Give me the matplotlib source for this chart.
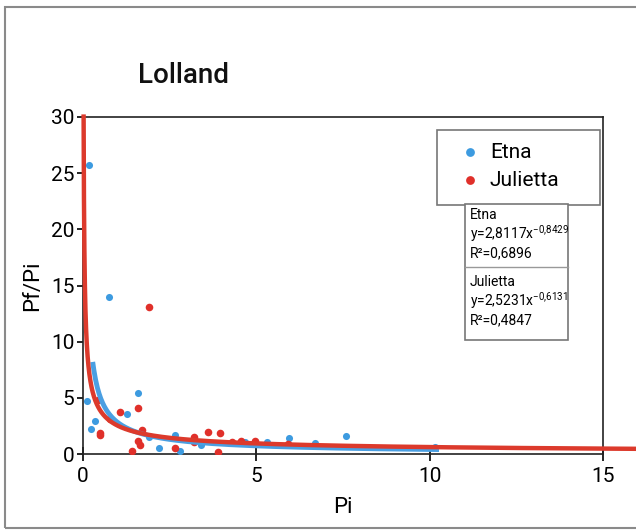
import numpy as np
import matplotlib
matplotlib.use("Agg")
import matplotlib.pyplot as plt
from matplotlib.patches import Rectangle

FONT = ['Roboto', 'DejaVu Sans']
plt.rcParams['font.family'] = FONT

# Data
etna_x = [0.17, 0.75, 1.6, 0.12, 0.35, 0.23, 1.27, 2.2, 2.8, 1.9, 2.65, 3.4, 4.67,
          5.3, 5.95, 6.7, 7.6, 10.15]
etna_y = [25.7, 14.0, 5.4, 4.7, 2.9, 2.2, 3.6, 0.55, 0.25, 1.5, 1.7, 0.8, 1.1,
          1.1, 1.4, 0.95, 1.6, 0.6]
jul_x = [1.9, 1.07, 1.6, 0.78, 0.5, 0.5, 0.43, 1.7, 1.6, 1.65, 1.4, 2.65, 3.2, 3.2,
         3.6, 3.95, 3.9, 4.3, 4.55, 4.95, 5.9]
jul_y = [13.1, 3.7, 4.1, 3.1, 1.9, 1.7, 4.8, 2.1, 1.15, 0.8, 0.3, 0.5, 1.5, 1.1,
         2.0, 1.9, 0.2, 1.1, 1.2, 1.2, 0.9]

etna_a, etna_b, etna_r2 = 2.8117, -0.8429, 0.6896
jul_a, jul_b, jul_r2 = 2.5231, -0.6131, 0.4847
etna_range = (0.29, 10.2)
jul_range = (0.0176, 15.9)

x_ticks = [0, 5, 10, 15]
y_ticks = [0, 5, 10, 15, 20, 25, 30]

blue = '#3d9be0'
red = '#e0302a'
blue_line = '#4a9fe2'
red_line = '#dc3a2c'

fig = plt.figure(figsize=(6.36, 5.31), dpi=100)
# outer frame
fig.add_artist(Rectangle((5 / 636, 1 - 528 / 531), 640 / 636, 521 / 531,
                         transform=fig.transFigure, fill=False,
                         edgecolor='#8a8a8a', linewidth=1.5))

ax = fig.add_axes([83 / 636, 1 - 454 / 531, 520 / 636, 337 / 531])
ax.set_xlim(0, 15)
ax.set_ylim(0, 30)

ax.scatter(etna_x, etna_y, s=26, color=blue, zorder=3, linewidths=0)
ax.scatter(jul_x, jul_y, s=30, color=red, zorder=3, linewidths=0)

xe = np.linspace(*etna_range, 400)
ax.plot(xe, etna_a * xe ** etna_b, color=blue_line, lw=3.5, zorder=4)
xj = np.geomspace(*jul_range, 600)
ax.plot(xj, jul_a * xj ** jul_b, color=red_line, lw=3.2, zorder=5, clip_on=False)

ax.set_xticks(x_ticks)
ax.set_yticks(y_ticks)
ax.tick_params(axis='x', direction='inout', length=10, width=1.2, labelsize=15, pad=4)
ax.tick_params(axis='y', direction='out', length=4, width=1.2, labelsize=15, pad=2)
for s in ax.spines.values():
    s.set_color('#222222')
    s.set_linewidth(1.2)

ax.set_xlabel('Pi', fontsize=16, labelpad=8)
ax.set_ylabel('Pf/Pi', fontsize=16, labelpad=6)

fig.text(138 / 636, 1 - 76 / 531, 'Lolland', fontsize=20, va='center',
         ha='left', color='#111111', fontweight='medium')

# Legend box
lx0, lx1 = (437 - 83) / 520, (600 - 83) / 520
ly0, ly1 = 1 - (205 - 117) / 337, 1 - (130 - 117) / 337
ax.add_patch(Rectangle((lx0, ly0), lx1 - lx0, ly1 - ly0, transform=ax.transAxes,
                       facecolor='white', edgecolor='#777777', lw=1.2, zorder=6))
ax.scatter([(470 - 83) / 520], [1 - (152 - 117) / 337], s=40, color=blue,
           transform=ax.transAxes, zorder=7, linewidths=0)
ax.scatter([(470 - 83) / 520], [1 - (180 - 117) / 337], s=40, color=red,
           transform=ax.transAxes, zorder=7, linewidths=0)
ax.text((490 - 83) / 520, 1 - (152 - 117) / 337, 'Etna', transform=ax.transAxes,
        fontsize=15, va='center', ha='left', zorder=7)
ax.text((490 - 83) / 520, 1 - (180 - 117) / 337, 'Julietta', transform=ax.transAxes,
        fontsize=15, va='center', ha='left', zorder=7)

# Equation box
ex0, ex1 = (465 - 83) / 520, (568 - 83) / 520
ey0, ey1 = 1 - (340 - 117) / 337, 1 - (204 - 117) / 337
ymid = 1 - (267 - 117) / 337
ax.add_patch(Rectangle((ex0, ey0), ex1 - ex0, ey1 - ey0, transform=ax.transAxes,
                       facecolor='white', edgecolor='#777777', lw=1.2, zorder=6))
ax.plot([ex0, ex1], [ymid, ymid], transform=ax.transAxes, color='#999999', lw=1, zorder=7)


def fmt(v, n):
    return f'{v:.{n}f}'.replace('.', ',')


def eq_block(name, a, b, r2, top_px):
    tx = (470 - 83) / 520
    ax.text(tx, 1 - (top_px - 117) / 337, name, transform=ax.transAxes,
            fontsize=10, va='center', ha='left', zorder=7)
    exp = fmt(b, 4).replace(',', '{,}')
    ax.text(tx, 1 - (top_px + 19 - 117) / 337,
            'y=' + fmt(a, 4) + r'x$^{\mathregular{' + exp + '}}$',
            transform=ax.transAxes, fontsize=10, va='center', ha='left', zorder=7)
    ax.text(tx, 1 - (top_px + 38 - 117) / 337, 'R\u00b2=' + fmt(r2, 4),
            transform=ax.transAxes, fontsize=10, va='center', ha='left', zorder=7)


eq_block('Etna', etna_a, etna_b, etna_r2, 215)
eq_block('Julietta', jul_a, jul_b, jul_r2, 282)

fig.savefig('out.png', dpi=100)
